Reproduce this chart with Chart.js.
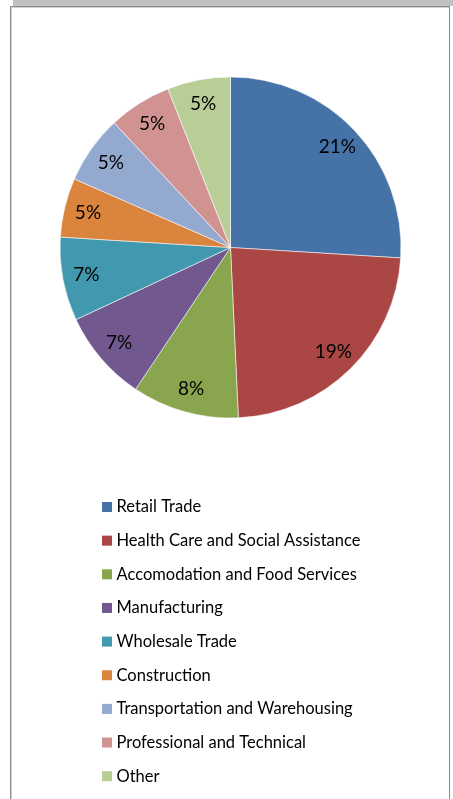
<!DOCTYPE html>
<html>
<head>
<meta charset="utf-8">
<script src="https://cdn.jsdelivr.net/npm/chart.js@4"></script>
<style>
  html, body { margin: 0; padding: 0; background: #fff; }
  body { width: 453px; height: 799px; position: relative; overflow: hidden; }
  #band { position: absolute; left: 13px; top: 0; width: 440px; height: 6px; background: #c0c0c0; }
  #frame { position: absolute; left: 10px; top: 6px; width: 440px; height: 820px;
           border: 1px solid #8c8c8c; box-shadow: inset 1px 1px 0 #d0d0d0; box-sizing: border-box; background: #fff; }
  #wrap { position: absolute; left: 0; top: 0; width: 453px; height: 799px; }
</style>
</head>
<body>
<div id="band"></div>
<div id="frame"></div>
<div id="wrap"><canvas id="chart"></canvas></div>
<script>
const categories = [
  "Retail Trade",
  "Health Care and Social Assistance",
  "Accomodation and Food Services",
  "Manufacturing",
  "Wholesale Trade",
  "Construction",
  "Transportation and Warehousing",
  "Professional and Technical",
  "Other"
];
// share of all employment, in percent
const shares = [21.3, 19.1, 8.3, 7.1, 6.5, 4.6, 5.3, 4.9, 4.9];
const colors = ["#4572a7", "#aa4643", "#89a54e", "#71588f", "#4198af",
                "#db843d", "#93a9cf", "#d19392", "#b9cd96"];

const FONT = "Lato, 'Liberation Sans', sans-serif";

// percent labels inside each slice
const sliceLabels = {
  id: "sliceLabels",
  afterDatasetsDraw(chart) {
    const ctx = chart.ctx;
    const meta = chart.getDatasetMeta(0);
    ctx.save();
    ctx.font = "19px " + FONT;
    ctx.fillStyle = "#000";
    ctx.textAlign = "center";
    ctx.textBaseline = "middle";
    meta.data.forEach((arc, i) => {
      const p = arc.getProps(["x", "y", "startAngle", "endAngle", "outerRadius"], true);
      const mid = (p.startAngle + p.endAngle) / 2;
      const r = p.outerRadius * 0.86;
      ctx.fillText(Math.round(shares[i]) + "%", p.x + Math.cos(mid) * r, p.y + Math.sin(mid) * r);
    });
    ctx.restore();
  }
};

// one-per-row legend under the pie
const listLegend = {
  id: "listLegend",
  afterDraw(chart) {
    const ctx = chart.ctx;
    const ds = chart.data.datasets[0];
    ctx.save();
    ctx.font = "16.5px " + FONT;
    ctx.textBaseline = "middle";
    chart.data.labels.forEach((label, i) => {
      const y = 507 + i * 33.65;
      ctx.fillStyle = ds.backgroundColor[i];
      ctx.fillRect(102, y - 5, 10, 10);
      ctx.fillStyle = "#000";
      ctx.fillText(label, 116.5, y);
    });
    ctx.restore();
  }
};

new Chart(document.getElementById("chart"), {
  type: "pie",
  data: {
    labels: categories,
    datasets: [{
      data: shares,
      backgroundColor: colors,
      borderColor: "rgba(255,255,255,0.55)",
      borderWidth: 1
    }]
  },
  options: {
    responsive: true,
    maintainAspectRatio: false,
    animation: false,
    layout: { padding: { left: 50, right: 42, top: 76.5, bottom: 380.5 } },
    plugins: {
      legend: { display: false },
      tooltip: { enabled: false }
    }
  },
  plugins: [sliceLabels, listLegend]
});
</script>
</body>
</html>
